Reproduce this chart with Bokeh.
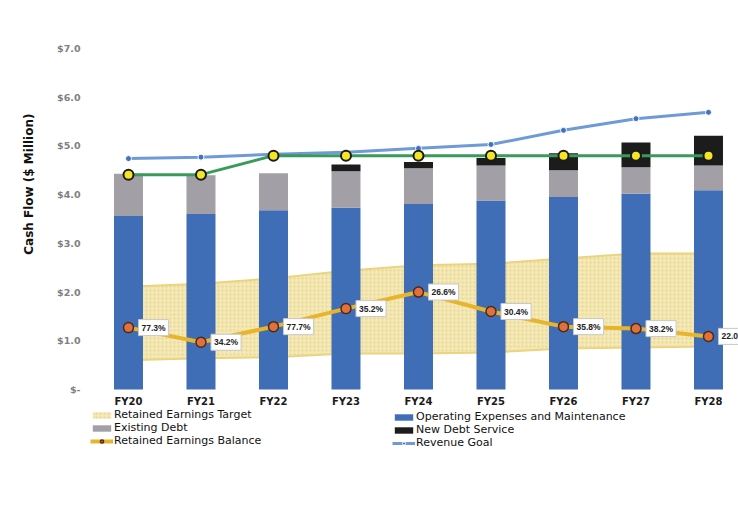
from bokeh.plotting import figure
from bokeh.models import (ColumnDataSource, Range1d, FixedTicker, CustomJSTickFormatter,
                          Legend, LegendItem, Title)
from bokeh.core.properties import value
from bokeh.embed import file_html
from bokeh.resources import INLINE

# ---- data ----
categories = ["FY20", "FY21", "FY22", "FY23", "FY24", "FY25", "FY26", "FY27", "FY28"]
opex = [3.56, 3.60, 3.68, 3.73, 3.81, 3.88, 3.95, 4.02, 4.09]
existing_debt = [0.87, 0.80, 0.76, 0.75, 0.73, 0.72, 0.55, 0.54, 0.51]
new_debt = [0.00, 0.00, 0.00, 0.14, 0.13, 0.15, 0.35, 0.51, 0.61]
revenue_goal = [4.74, 4.77, 4.83, 4.87, 4.95, 5.03, 5.32, 5.56, 5.69]
revenue = [4.41, 4.41, 4.80, 4.80, 4.80, 4.80, 4.80, 4.80, 4.80]
target_low = [0.60, 0.64, 0.66, 0.74, 0.74, 0.76, 0.84, 0.86, 0.88]
target_high = [2.11, 2.17, 2.28, 2.44, 2.55, 2.58, 2.69, 2.79, 2.79]
balance = [1.27, 0.97, 1.29, 1.66, 2.00, 1.60, 1.29, 1.25, 1.09]
balance_pct = ["77.3%", "34.2%", "77.7%", "35.2%", "26.6%", "30.4%", "35.8%", "38.2%", "22.0%"]
y_ticks = [0, 1, 2, 3, 4, 5, 6, 7]

xs = list(range(len(categories)))
src = ColumnDataSource(dict(
    x=xs, opex=opex, existing=existing_debt, newdebt=new_debt,
    goal=revenue_goal, rev=revenue, lo=target_low, hi=target_high,
    bal=balance, pct=balance_pct,
))

p = figure(width=738, height=509, output_backend="svg", toolbar_location=None,
           x_range=Range1d(-0.593, 8.414), y_range=Range1d(-1.848, 7.575),
           min_border_left=85, min_border_right=0, min_border_top=20, min_border_bottom=30)
p.outline_line_color = None
p.xgrid.visible = False
p.ygrid.visible = False
p.background_fill_color = "white"
p.border_fill_color = "white"

# axes
p.xaxis.fixed_location = 0
p.xaxis.ticker = FixedTicker(ticks=xs)
p.xaxis.major_label_overrides = {i: c for i, c in zip(xs, categories)}
p.xaxis.axis_line_color = None
p.xaxis.major_tick_line_color = None
p.xaxis.minor_tick_line_color = None
p.xaxis.major_tick_out = 0
p.xaxis.major_tick_in = 0
p.xaxis.major_label_text_font = "DejaVu Sans"
p.xaxis.major_label_text_font_style = "bold"
p.xaxis.major_label_text_font_size = "10px"
p.xaxis.major_label_text_color = "#1a1a1a"
p.xaxis.major_label_standoff = 7

p.yaxis.ticker = FixedTicker(ticks=y_ticks)
p.yaxis.formatter = CustomJSTickFormatter(code="return tick == 0 ? '$-' : '$' + tick.toFixed(1);")
p.yaxis.axis_line_color = None
p.yaxis.major_tick_line_color = None
p.yaxis.minor_tick_line_color = None
p.yaxis.major_tick_out = 0
p.yaxis.major_tick_in = 0
p.yaxis.major_label_text_font = "DejaVu Sans"
p.yaxis.major_label_text_font_style = "bold"
p.yaxis.major_label_text_font_size = "9.5px"
p.yaxis.major_label_text_color = "#808080"
p.yaxis.major_label_standoff = 5

ytitle = Title(text="Cash Flow ($ Million)", align="right", offset=93, standoff=38,
               text_font="DejaVu Sans", text_font_style="bold", text_font_size="12px",
               text_color="#111111")
p.add_layout(ytitle, "left")

# retained earnings target band
band = p.varea(x="x", y1="lo", y2="hi", source=src, fill_color="#f3e8b6",
               hatch_pattern="dot", hatch_color="#dcc25a", hatch_alpha=0.5, hatch_scale=4)
p.line(x="x", y="hi", source=src, line_color="#ead47e", line_width=2)
p.line(x="x", y="lo", source=src, line_color="#ead47e", line_width=2)

# stacked bars
bars = p.vbar_stack(["opex", "existing", "newdebt"], x="x", width=0.4, source=src,
                    color=["#3f6eb6", "#a29fa6", "#1c1c1c"], line_color=None)

# revenue goal
goal_line = p.line(x="x", y="goal", source=src, line_color="#6e9bd8", line_width=3)
goal_dots = p.scatter(x="x", y="goal", source=src, size=6, fill_color="#3f72c0",
                      line_color="white", line_width=1)

# revenue (green)
p.line(x="x", y="rev", source=src, line_color="#3a9a5c", line_width=3)
p.scatter(x="x", y="rev", source=src, size=10, fill_color="#f5e625",
          line_color="#1a1a1a", line_width=2)

# retained earnings balance
bal_line = p.line(x="x", y="bal", source=src, line_color="#e7b52c", line_width=4)
bal_dots = p.scatter(x="x", y="bal", source=src, size=10, fill_color="#e2703a",
                     line_color="#4a2a1a", line_width=1.5)

p.text(x="x", y="bal", text="pct", source=src, x_offset=10, y_offset=0,
       text_align="left", text_baseline="middle",
       text_font=value("Liberation Sans"), text_font_style="bold",
       text_font_size="8.5px", text_color="#222222",
       background_fill_color="white", border_line_color="#c8c8c8",
       border_line_width=1, padding=3)

common = dict(border_line_color=None, background_fill_alpha=0, padding=0, margin=0,
              spacing=0, label_height=12, glyph_height=8, glyph_width=23,
              label_standoff=1, label_text_font="DejaVu Sans",
              label_text_font_size="11px", label_text_color="#111111")

leg1 = Legend(items=[
    LegendItem(label="Retained Earnings Target", renderers=[band]),
    LegendItem(label="Existing Debt", renderers=[bars[1]]),
    LegendItem(label="Retained Earnings Balance", renderers=[bal_line, bal_dots]),
], location=(5, 32), **common)
leg2 = Legend(items=[
    LegendItem(label="Operating Expenses and Maintenance", renderers=[bars[0]]),
    LegendItem(label="New Debt Service", renderers=[bars[2]]),
    LegendItem(label="Revenue Goal", renderers=[goal_line, goal_dots]),
], location=(307, 30), **common)
p.add_layout(leg1)
p.add_layout(leg2)

open("out.html", "w").write(file_html(p, INLINE))
